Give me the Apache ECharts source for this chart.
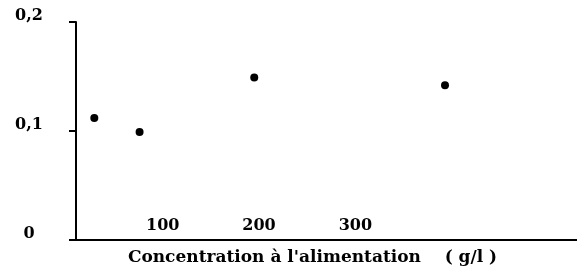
<!DOCTYPE html>
<html>
<head>
<meta charset="utf-8">
<script src="https://cdn.jsdelivr.net/npm/echarts@6/dist/echarts.min.js"></script>
<style>
html,body{margin:0;padding:0;background:#fff;}
#chart{width:577px;height:272px;}
</style>
</head>
<body>
<div id="chart"></div>
<script>
// Data
var concentration = [29, 76, 195, 393];        // g/l
var values = [0.112, 0.099, 0.149, 0.142];
var xTickValues = [100, 200, 300];
var yTickLabels = {"0": "0", "0.1": "0,1", "0.2": "0,2"};
var xAxisTitle = "Concentration à l'alimentation    ( g/l )";

var points = concentration.map(function (c, i) { return [c, values[i]]; });

var serif = '"DejaVu Serif", "Liberation Serif", serif';
var chart = echarts.init(document.getElementById('chart'), null, {renderer: 'canvas'});
chart.setOption({
  animation: false,
  backgroundColor: '#ffffff',
  grid: {left: 76, right: 0, top: 22, bottom: 32, containLabel: false, outerBoundsMode: 'none'},
  xAxis: {
    type: 'value',
    min: 10,
    max: 530,
    name: xAxisTitle,
    nameLocation: 'middle',
    nameGap: 9,
    nameTextStyle: {color: '#000', fontFamily: serif, fontWeight: 'bold', fontSize: 17, padding: [0, 28, 0, 0]},
    axisLine: {show: true, onZero: false, lineStyle: {color: '#000', width: 2}},
    axisTick: {show: false},
    splitLine: {show: false},
    axisLabel: {
      inside: true,
      margin: 6,
      customValues: xTickValues,
      color: '#000',
      fontFamily: serif,
      fontWeight: 'bold',
      fontSize: 16
    }
  },
  yAxis: {
    type: 'value',
    min: 0,
    max: 0.2,
    interval: 0.1,
    axisLine: {show: true, lineStyle: {color: '#000', width: 2}},
    axisTick: {show: true, length: 7, lineStyle: {color: '#000', width: 2}},
    splitLine: {show: false},
    axisLabel: {
      margin: 47,
      align: 'center',
      verticalAlign: 'bottom',
      lineHeight: 13,
      color: '#000',
      fontFamily: serif,
      fontWeight: 'bold',
      fontSize: 16,
      formatter: function (v) {
        var k = String(Math.round(v * 10) / 10);
        return yTickLabels[k] !== undefined ? yTickLabels[k] : k;
      }
    }
  },
  series: [{
    type: 'scatter',
    data: points,
    symbol: 'circle',
    symbolSize: 8,
    itemStyle: {color: '#000', opacity: 1}
  }]
});
</script>
</body>
</html>
